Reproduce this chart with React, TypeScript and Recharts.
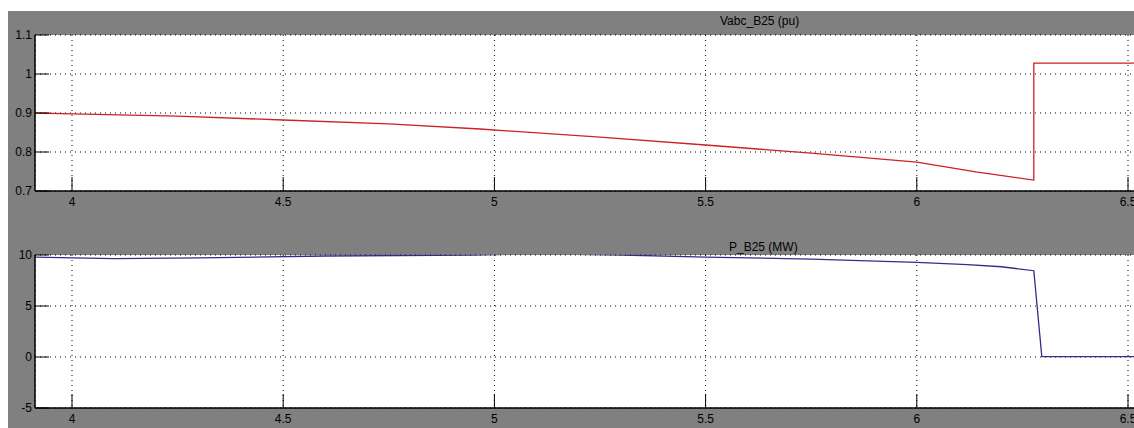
import React from 'react';
import { LineChart, Line, XAxis, YAxis, CartesianGrid } from 'recharts';

// time axis (s)
const timeTicks = [4, 4.5, 5, 5.5, 6, 6.5];
const timeDomain = [3.9124, 6.5284];

// Vabc_B25 (pu)
const vabcTime = [3.912, 4.0, 4.25, 4.5, 4.75, 4.966, 5.25, 5.5, 5.75, 6.0, 6.14, 6.277, 6.277, 6.53];
const vabcValue = [0.9, 0.898, 0.892, 0.882, 0.872, 0.859, 0.838, 0.818, 0.797, 0.774, 0.749, 0.728, 1.028, 1.028];
const vabcTicks = [0.7, 0.8, 0.9, 1, 1.1];

// P_B25 (MW)
const pTime = [3.912, 4.1, 4.3, 4.6, 4.95, 5.1, 5.3, 5.5, 5.75, 6.0, 6.12, 6.2, 6.277, 6.285, 6.296, 6.53];
const pValue = [9.8, 9.65, 9.72, 9.9, 10.0, 10.12, 10.0, 9.8, 9.6, 9.28, 9.05, 8.85, 8.46, 4.9, 0.03, 0.03];
const pTicks = [-5, 0, 5, 10];

const vabcData = vabcTime.map((t, i) => ({ t, v: vabcValue[i] }));
const pData = pTime.map((t, i) => ({ t, v: pValue[i] }));

const FONT = '"Liberation Sans", Arial, sans-serif';
const TICK_LEN = 14;
const axisLine = { stroke: '#000', strokeWidth: 1.5 };

// matlab-style ticks: short solid marks pointing into the plot
const BottomTick = (props: any) => {
  const { x, y, payload } = props;
  const axisY = y - 6;
  return (
    <g>
      <line x1={x} x2={x} y1={axisY} y2={axisY - TICK_LEN} stroke="#000" strokeWidth={1} />
      <text x={x} y={y} dy="0.71em" textAnchor="middle" fontFamily={FONT} fontSize={12} fill="#000">
        {payload.value}
      </text>
    </g>
  );
};

const TopTick = (props: any) => {
  const { x, y } = props;
  return <line x1={x} x2={x} y1={y} y2={y + TICK_LEN} stroke="#000" strokeWidth={1} />;
};

const LeftTick = (props: any) => {
  const { x, y, payload } = props;
  const axisX = x + 3;
  return (
    <g>
      <line x1={axisX} x2={axisX + TICK_LEN} y1={y} y2={y} stroke="#000" strokeWidth={1} />
      <text x={x} y={y} dy="0.355em" textAnchor="end" fontFamily={FONT} fontSize={12} fill="#000">
        {payload.value}
      </text>
    </g>
  );
};

interface PanelProps {
  data: { t: number; v: number }[];
  yTicks: number[];
  yDomain: [number, number];
  color: string;
  height: number;
}

const Panel: React.FC<PanelProps> = ({ data, yTicks, yDomain, color, height }) => (
  <LineChart width={1150} height={height} data={data} margin={{ top: 35, right: 10, left: 0, bottom: 0 }}>
    <CartesianGrid fill="#fff" stroke="#000" strokeDasharray="1 4" />
    <XAxis
      dataKey="t"
      type="number"
      domain={timeDomain}
      ticks={timeTicks}
      allowDataOverflow
      height={24}
      tickSize={0}
      tickMargin={6}
      axisLine={axisLine}
      tickLine={false}
      tick={BottomTick}
    />
    <XAxis
      xAxisId="top"
      dataKey="t"
      type="number"
      orientation="top"
      domain={timeDomain}
      ticks={timeTicks}
      allowDataOverflow
      height={0}
      tickSize={0}
      tickMargin={0}
      axisLine={axisLine}
      tickLine={false}
      tick={TopTick}
    />
    <YAxis
      type="number"
      domain={yDomain}
      ticks={yTicks}
      allowDataOverflow
      width={35}
      tickSize={0}
      tickMargin={3}
      axisLine={axisLine}
      tickLine={false}
      tick={LeftTick}
    />
    <Line type="linear" dataKey="v" stroke={color} strokeWidth={1.3} dot={false} isAnimationActive={false} />
  </LineChart>
);

const titleStyle: React.CSSProperties = {
  position: 'absolute',
  fontFamily: FONT,
  fontSize: 12,
  color: '#000',
  whiteSpace: 'nowrap',
};

export default function App() {
  return (
    <div style={{ position: 'absolute', left: 0, top: 0, width: 1134, height: 428, overflow: 'hidden', background: '#fff' }}>
      <div style={{ position: 'absolute', left: 8, top: 11, width: 1126, height: 417, background: '#808080' }} />
      <div style={{ ...titleStyle, left: 720, top: 14 }}>Vabc_B25 (pu)</div>
      <div style={{ ...titleStyle, left: 729, top: 240 }}>P_B25 (MW)</div>
      <div style={{ position: 'absolute', left: 0, top: 0 }}>
        <Panel data={vabcData} yTicks={vabcTicks} yDomain={[0.7, 1.1]} color="#cc2222" height={215} />
      </div>
      <div style={{ position: 'absolute', left: 0, top: 220 }}>
        <Panel data={pData} yTicks={pTicks} yDomain={[-5, 10]} color="#2e2e8c" height={212} />
      </div>
    </div>
  );
}
